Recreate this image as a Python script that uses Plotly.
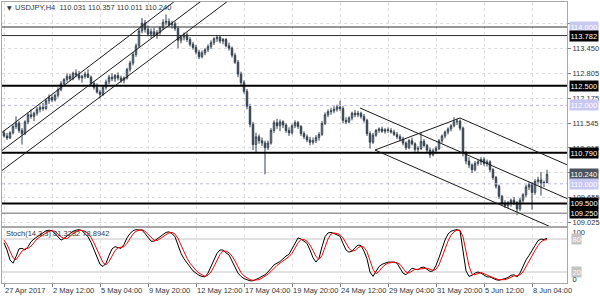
import plotly.graph_objects as go

# ---------------- data ----------------
bar_open = [111.30,111.22,111.17,111.30,111.46,111.55,111.36,111.28,111.58,111.76,
            111.72,111.80,111.90,111.95,111.92,112.12,112.20,112.14,112.26,112.40,
            112.56,112.66,112.74,112.68,112.82,112.78,112.70,112.74,112.80,112.72,
            112.56,112.46,112.34,112.28,112.46,112.60,112.72,112.68,112.76,112.70,
            112.64,112.70,112.92,113.08,113.30,113.52,113.90,114.10,113.94,113.82,
            113.88,113.80,113.86,113.98,114.12,114.14,114.06,114.08,113.96,113.66,
            113.74,113.80,113.68,113.56,113.48,113.36,113.24,113.34,113.42,113.50,
            113.60,113.70,113.74,113.64,113.68,113.52,113.46,113.28,113.10,112.80,
            112.58,112.36,111.98,111.52,111.00,111.20,111.10,111.04,110.92,111.04,
            111.36,111.56,111.48,111.58,111.50,111.36,111.30,111.48,111.56,111.46,
            111.28,111.20,111.12,111.06,111.10,111.18,111.26,111.54,111.76,111.84,
            111.86,111.90,111.96,111.92,111.62,111.58,111.68,111.80,111.76,111.80,
            111.72,111.62,111.28,111.06,111.24,111.36,111.40,111.34,111.38,111.36,
            111.32,111.26,111.20,111.14,111.04,110.92,111.10,111.02,110.88,110.90,
            111.08,110.98,110.86,110.74,110.84,110.90,111.10,111.22,111.32,111.40,
            111.48,111.58,111.60,111.42,110.80,110.58,110.48,110.36,110.52,110.56,
            110.62,110.52,110.56,110.36,110.16,109.94,109.68,109.50,109.44,109.52,
            109.58,109.52,109.36,109.58,109.72,109.92,109.98,109.78,110.06,110.10,
            110.02,110.031]
bar_high = [111.36,111.30,111.34,111.52,111.72,111.60,111.42,111.62,111.82,111.90,
            111.84,111.96,112.02,112.06,112.16,112.28,112.26,112.30,112.46,112.62,
            112.70,112.82,112.80,112.86,112.92,112.88,112.78,112.86,112.92,112.76,
            112.62,112.56,112.40,112.50,112.66,112.78,112.82,112.80,112.84,112.76,
            112.74,112.96,113.14,113.36,113.58,113.96,114.23,114.18,114.04,113.96,
            113.98,113.92,114.02,114.20,114.32,114.22,114.16,114.14,114.02,113.80,
            113.86,113.86,113.74,113.62,113.54,113.42,113.40,113.46,113.56,113.66,
            113.74,113.80,113.78,113.72,113.72,113.60,113.50,113.34,113.16,112.86,
            112.64,112.42,112.04,111.58,111.30,111.26,111.18,111.10,111.10,111.42,
            111.62,111.66,111.64,111.62,111.54,111.44,111.52,111.62,111.60,111.50,
            111.34,111.26,111.20,111.18,111.24,111.32,111.60,111.82,111.90,111.94,
            111.98,112.02,112.12,111.98,111.70,111.72,111.84,111.88,111.86,111.84,
            111.78,111.66,111.34,111.30,111.40,111.44,111.46,111.42,111.44,111.42,
            111.38,111.32,111.26,111.20,111.08,111.14,111.18,111.06,110.96,111.30,
            111.14,111.02,110.92,110.90,110.96,111.14,111.26,111.36,111.44,111.52,
            111.70,111.66,111.64,111.46,110.84,110.68,110.52,110.58,110.62,110.68,
            110.68,110.62,110.60,110.40,110.20,109.98,109.72,109.58,109.56,109.62,
            109.66,109.56,109.64,109.76,109.98,110.04,110.04,110.12,110.18,110.30,
            110.08,110.357]
bar_low = [111.18,111.12,111.14,111.26,111.40,111.30,111.00,111.24,111.52,111.66,
           111.60,111.74,111.82,111.86,111.88,112.04,112.08,112.10,112.20,112.36,
           112.48,112.60,112.62,112.64,112.72,112.64,112.58,112.68,112.70,112.52,
           112.40,112.30,112.18,112.24,112.40,112.54,112.62,112.60,112.64,112.58,
           112.56,112.66,112.86,113.02,113.24,113.46,113.84,113.86,113.76,113.72,
           113.74,113.70,113.80,113.92,114.04,114.00,113.96,113.90,113.46,113.58,
           113.66,113.62,113.50,113.42,113.30,113.18,113.20,113.28,113.36,113.44,
           113.54,113.62,113.58,113.56,113.48,113.40,113.22,113.06,112.72,112.52,
           112.30,111.90,111.44,110.86,110.80,111.02,110.96,110.24,110.86,111.00,
           111.30,111.40,111.34,111.42,111.30,111.22,111.26,111.42,111.40,111.22,
           111.14,111.06,110.98,111.00,111.04,111.10,111.22,111.50,111.70,111.76,
           111.80,111.84,111.86,111.54,111.52,111.54,111.62,111.70,111.70,111.66,
           111.56,111.22,110.90,111.02,111.20,111.30,111.30,111.28,111.30,111.28,
           111.22,111.14,111.08,110.98,110.86,110.88,110.98,110.82,110.80,110.86,
           110.94,110.80,110.66,110.70,110.80,110.86,111.04,111.16,111.26,111.34,
           111.44,111.50,111.36,110.70,110.50,110.40,110.28,110.32,110.46,110.48,
           110.46,110.44,110.30,110.10,109.88,109.62,109.44,109.38,109.38,109.42,
           109.46,109.20,109.30,109.52,109.66,109.84,109.34,109.72,109.98,109.70,
           109.92,110.011]
bar_close = [111.22,111.17,111.30,111.46,111.55,111.36,111.28,111.58,111.76,111.72,
             111.80,111.90,111.95,111.92,112.12,112.20,112.14,112.26,112.40,112.56,
             112.66,112.74,112.68,112.82,112.78,112.70,112.74,112.80,112.72,112.56,
             112.46,112.34,112.28,112.46,112.60,112.72,112.68,112.76,112.70,112.64,
             112.70,112.92,113.08,113.30,113.52,113.90,114.10,113.94,113.82,113.88,
             113.80,113.86,113.98,114.12,114.14,114.06,114.08,113.96,113.66,113.74,
             113.80,113.68,113.56,113.48,113.36,113.24,113.34,113.42,113.50,113.60,
             113.70,113.74,113.64,113.68,113.52,113.46,113.28,113.10,112.80,112.58,
             112.36,111.98,111.52,111.00,111.20,111.10,111.04,110.92,111.04,111.36,
             111.56,111.48,111.58,111.50,111.36,111.30,111.48,111.56,111.46,111.28,
             111.20,111.12,111.06,111.10,111.18,111.26,111.54,111.76,111.84,111.86,
             111.90,111.96,111.92,111.62,111.58,111.68,111.80,111.76,111.80,111.72,
             111.62,111.28,111.06,111.24,111.36,111.40,111.34,111.38,111.36,111.32,
             111.26,111.20,111.14,111.04,110.92,111.10,111.02,110.88,110.90,111.08,
             110.98,110.86,110.74,110.84,110.90,111.10,111.22,111.32,111.40,111.48,
             111.58,111.60,111.42,110.80,110.58,110.48,110.36,110.52,110.56,110.62,
             110.52,110.56,110.36,110.16,109.94,109.68,109.50,109.44,109.52,109.58,
             109.52,109.36,109.58,109.72,109.92,109.98,109.78,110.06,110.10,110.02,
             110.03,110.240]

stoch_main = [73,60,42,36,48,62,63,60,66,75,80,84,88,91,95,96,95,90,83,78,
              81,85,90,94,96,97,95,90,84,74,60,47,34,30,36,50,62,66,65,63,
              70,82,90,95,97,97,96,90,82,76,76,80,83,88,92,93,90,84,68,54,
              44,36,28,22,18,14,12,11,18,30,42,54,60,60,55,51,40,28,18,12,
              8,6,4,4,6,9,12,15,20,27,33,36,39,44,49,52,62,74,82,80,
              76,72,60,46,38,45,66,84,91,92,90,88,85,72,60,56,58,64,69,68,
              58,44,20,12,20,30,34,36,38,38,38,36,28,18,15,22,27,25,24,28,
              29,25,21,22,32,46,62,78,89,94,96,97,95,60,22,12,14,18,20,18,
              14,11,11,8,6,5,6,8,10,14,15,11,18,30,42,50,58,68,77,80,
              79,81.3282]
stoch_signal = [78,70,58,46,42,49,58,62,63,67,74,80,84,88,91,94,95,94,89,84,
                81,81,85,90,93,96,96,94,90,83,73,60,47,37,33,39,49,59,64,65,
                66,72,81,89,94,96,97,94,89,83,78,77,80,84,88,91,92,89,81,69,
                55,45,36,29,23,18,15,12,14,20,30,42,52,58,58,55,49,40,29,19,
                13,9,6,5,5,6,9,12,16,21,27,32,36,40,44,48,54,63,73,79,
                79,76,69,59,48,43,50,65,80,89,91,90,88,82,72,63,58,59,64,67,
                65,57,41,25,17,21,28,33,36,37,38,37,34,27,20,18,21,25,25,26,
                27,27,25,23,25,33,47,62,76,87,93,96,96,84,59,31,16,15,17,19,
                17,14,12,10,8,6,6,6,8,11,13,13,15,20,30,41,50,59,68,75,
                78,78.8942]

date_tick_bars = [0, 16, 32, 48, 64, 80, 96, 112, 128, 144, 160, 176]
date_tick_text = ["27 Apr 2017", "2 May 12:00", "5 May 04:00", "9 May 20:00",
                  "12 May 12:00", "17 May 04:00", "19 May 20:00", "24 May 12:00",
                  "29 May 04:00", "31 May 20:00", "5 Jun 12:00", "8 Jun 04:00"]

price_grid = [114.080, 113.450, 112.805, 112.175, 111.545, 110.915, 110.285, 109.655, 109.025]
price_grid_text = ["", "113.450", "112.805", "112.175", "111.545", "110.915", "", "109.655", "109.025"]

# horizontal levels: (price, colour, width, dash)
level_lines = [(114.000, "#303030", 1, "solid"),
               (113.782, "#303030", 1, "solid"),
               (112.500, "#000000", 2, "solid"),
               (112.000, "#b8b8ec", 1, "dot"),
               (110.790, "#000000", 2, "solid"),
               (110.000, "#b8b8ec", 1, "dot"),
               (109.500, "#000000", 2, "solid"),
               (109.250, "#9a9a9a", 1.5, "solid")]

# price tags on the right axis: (text, price, background)
price_tags = [("114.000", 114.000, "#c8c8f2"),
              ("113.782", 113.782, "#000000"),
              ("112.500", 112.500, "#000000"),
              ("112.000", 112.000, "#c8c8f2"),
              ("110.790", 110.790, "#000000"),
              ("110.240", 110.240, "#4b535c"),
              ("110.000", 110.000, "#c8c8f2"),
              ("109.500", 109.500, "#000000"),
              ("109.250", 109.250, "#000000")]

# trend lines in (bar, price, bar, price)
trend_lines = [(-5, 111.058, 70, 115.420),
               (-5, 110.600, 80, 115.480),
               (-5, 110.090, 80, 114.970),
               (118.67, 111.934, 190, 109.546),
               (152.0, 111.679, 190, 110.407),
               (123.67, 110.862, 190, 108.641),
               (123.67, 110.862, 152.0, 111.679)]

stoch_levels = [80, 20]
stoch_tags = [("100", 100, None), ("80", 80, "#c4c4c4"), ("20", 20, "#c4c4c4"), ("0", 0, None)]

# ---------------- layout geometry ----------------
W, H = 600, 300
def py(p):
    return 1 - p / H

x_left, x_right = 2, 567
main_top, main_bot = 2, 226
sub_top, sub_bot = 228, 283
FONT = "Liberation Sans"
TXT = "#303840"

bars = list(range(len(bar_close)))

fig = go.Figure()
fig.add_trace(go.Candlestick(
    x=bars, open=bar_open, high=bar_high, low=bar_low, close=bar_close,
    increasing=dict(line=dict(color="#36414e", width=1), fillcolor="#c3c9d0"),
    decreasing=dict(line=dict(color="#36414e", width=1), fillcolor="#36414e"),
    whiskerwidth=0, xaxis="x", yaxis="y", showlegend=False, hoverinfo="skip"))

fig.add_trace(go.Scatter(x=bars, y=stoch_main, mode="lines",
                         line=dict(color="#000000", width=1), xaxis="x2", yaxis="y2",
                         showlegend=False, hoverinfo="skip"))
fig.add_trace(go.Scatter(x=bars, y=stoch_signal, mode="lines",
                         line=dict(color="#ff0000", width=1), xaxis="x2", yaxis="y2",
                         showlegend=False, hoverinfo="skip"))

xr = [-2 / 3, (x_right - x_left) / 3 - 2 / 3]
p_per_px = 1 / 39.2
yr = [114.0 - (main_bot - 27) * p_per_px, 114.0 + (27 - main_top) * p_per_px]

axis_common = dict(showline=True, linecolor="#a8a8a8", linewidth=1, mirror=True,
                   zeroline=False, automargin=False)
fig.update_layout(
    width=W, height=H, margin=dict(l=0, r=0, t=0, b=0, autoexpand=False),
    paper_bgcolor="white", plot_bgcolor="white",
    font=dict(family=FONT, size=7.5, color=TXT),
    xaxis=dict(domain=[x_left / W, x_right / W], range=xr, anchor="y",
               rangeslider=dict(visible=False), showticklabels=False,
               tickvals=date_tick_bars, ticks="", showgrid=True,
               gridcolor="#dcdcdc", griddash="dot", gridwidth=1, **axis_common),
    yaxis=dict(domain=[py(main_bot), py(main_top)], range=yr, anchor="x", side="right",
               tickvals=price_grid, ticktext=price_grid_text, ticks="outside",
               ticklen=3, tickcolor="#808080", showgrid=True, gridcolor="#dcdcdc",
               griddash="dot", gridwidth=1, tickfont=dict(size=7.5, color=TXT),
               **axis_common),
    xaxis2=dict(domain=[x_left / W, x_right / W], range=xr, anchor="y2",
                tickvals=date_tick_bars, ticktext=date_tick_text, ticks="outside",
                ticklen=3, tickcolor="#808080", ticklabelposition="outside right",
                tickangle=0, tickfont=dict(size=7.5, color=TXT), showgrid=True,
                gridcolor="#e4e4e4", griddash="dot", **axis_common),
    yaxis2=dict(domain=[py(sub_bot), py(sub_top)], range=[0, 100], anchor="x2",
                side="right", showticklabels=False, ticks="", showgrid=False,
                **axis_common),
)

shapes = []
for price, col, wdt, dash in level_lines:
    shapes.append(dict(type="line", xref="paper", yref="y", x0=x_left / W, x1=x_right / W,
                       y0=price, y1=price, line=dict(color=col, width=wdt, dash=dash)))
for i0, p0, i1, p1 in trend_lines:
    shapes.append(dict(type="line", xref="x", yref="y", x0=i0, y0=p0, x1=i1, y1=p1,
                       line=dict(color="#1a1a1a", width=1)))
for lv in stoch_levels:
    shapes.append(dict(type="line", xref="paper", yref="y2", x0=x_left / W, x1=x_right / W,
                       y0=lv, y1=lv, line=dict(color="#c4c4c4", width=1), layer="below"))
fig.update_layout(shapes=shapes)

ann = []
for txt, price, bg in price_tags:
    ann.append(dict(xref="paper", yref="y", x=569 / W, y=price, xanchor="left",
                    yanchor="middle", text=txt, showarrow=False, bgcolor=bg,
                    borderpad=0.5, font=dict(family=FONT, size=7.5, color="white")))
for txt, lv, bg in stoch_tags:
    yy = lv
    if lv == 100:
        yy = 93
    if lv == 0:
        yy = 7
    ann.append(dict(xref="paper", yref="y2", x=571 / W, y=yy, xanchor="left",
                    yanchor="middle", text=txt, showarrow=False,
                    bgcolor=bg if bg else "rgba(0,0,0,0)", borderpad=0.5,
                    font=dict(family=FONT, size=7.5, color="white" if bg else TXT)))
ann.append(dict(xref="paper", yref="paper", x=5 / W, y=py(7.5), xanchor="left",
                yanchor="middle", showarrow=False, text="▼",
                font=dict(family="DejaVu Sans", size=6, color=TXT)))
ann.append(dict(xref="paper", yref="paper", x=13 / W, y=py(7.5), xanchor="left",
                yanchor="middle", showarrow=False,
                text="USDJPY,H4  110.031 110.357 110.011 110.240",
                font=dict(family=FONT, size=7.5, color=TXT)))
ann.append(dict(xref="paper", yref="paper", x=4 / W, y=py(233.5), xanchor="left",
                yanchor="middle", showarrow=False,
                text="Stoch(14,3,3) 81.3282 78.8942",
                font=dict(family=FONT, size=7.5, color=TXT)))
fig.update_layout(annotations=ann)

fig.write_html("out.html")
